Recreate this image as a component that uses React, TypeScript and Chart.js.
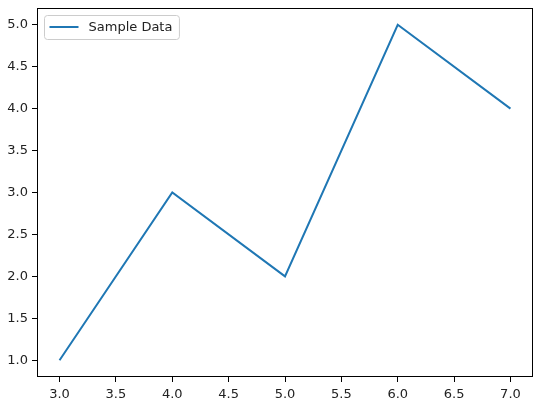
import React, { useEffect, useRef } from "react";
import { Chart, registerables } from "chart.js";

Chart.register(...registerables);

const xValues = [3, 4, 5, 6, 7];
const yValues = [1, 3, 2, 5, 4];
const xTicks = [3.0, 3.5, 4.0, 4.5, 5.0, 5.5, 6.0, 6.5, 7.0];
const yTicks = [1.0, 1.5, 2.0, 2.5, 3.0, 3.5, 4.0, 4.5, 5.0];
const seriesLabel = "Sample Data";

const FONT = "'DejaVu Sans', sans-serif";

const framePlugin = {
  id: "frame",
  afterDatasetsDraw(chart: any) {
    const { ctx, chartArea } = chart;
    ctx.save();
    ctx.strokeStyle = "#000";
    ctx.lineWidth = 1;
    ctx.strokeRect(
      Math.round(chartArea.left) + 0.5,
      Math.round(chartArea.top) + 0.5,
      Math.round(chartArea.right - chartArea.left) - 1,
      Math.round(chartArea.bottom - chartArea.top) - 1
    );
    // legend
    const lx = chartArea.left + 7;
    const ly = chartArea.top + 7;
    ctx.font = `13px ${FONT}`;
    const label = chart.data.datasets[0].label;
    const tw = ctx.measureText(label).width;
    const w = 45 + tw + 6;
    const h = 24;
    ctx.fillStyle = "rgba(255,255,255,0.8)";
    ctx.strokeStyle = "#cccccc";
    ctx.lineWidth = 1;
    ctx.beginPath();
    const r = 3;
    const x0 = Math.round(lx) + 0.5;
    const y0 = Math.round(ly) + 0.5;
    ctx.moveTo(x0 + r, y0);
    ctx.arcTo(x0 + w, y0, x0 + w, y0 + h, r);
    ctx.arcTo(x0 + w, y0 + h, x0, y0 + h, r);
    ctx.arcTo(x0, y0 + h, x0, y0, r);
    ctx.arcTo(x0, y0, x0 + w, y0, r);
    ctx.closePath();
    ctx.fill();
    ctx.stroke();
    ctx.strokeStyle = "#1f77b4";
    ctx.lineWidth = 2;
    ctx.beginPath();
    ctx.moveTo(x0 + 5, y0 + 11.5);
    ctx.lineTo(x0 + 34, y0 + 11.5);
    ctx.stroke();
    ctx.fillStyle = "#222";
    ctx.textBaseline = "middle";
    ctx.textAlign = "left";
    ctx.fillText(label, x0 + 44, y0 + 12);
    ctx.restore();
  },
};

export default function App() {
  const ref = useRef<HTMLCanvasElement | null>(null);
  useEffect(() => {
    document.body.style.margin = "0";
    const chart = new Chart(ref.current!, {
      type: "line",
      data: {
        datasets: [
          {
            label: seriesLabel,
            data: xValues.map((x, i) => ({ x, y: yValues[i] })),
            borderColor: "#1f77b4",
            backgroundColor: "#1f77b4",
            borderWidth: 2,
            pointRadius: 0,
            tension: 0,
            fill: false,
          },
        ],
      },
      options: {
        animation: false,
        responsive: false,
        layout: { padding: { top: 8, right: 8, left: 0, bottom: 0 } },
        plugins: { legend: { display: false }, tooltip: { enabled: false } },
        scales: {
          x: {
            type: "linear",
            min: 2.8,
            max: 7.2,
            afterBuildTicks: (s: any) => {
              s.ticks = xTicks.map((v) => ({ value: v }));
            },
            afterFit: (s: any) => {
              s.height = 32;
              s.paddingLeft = 0;
              s.paddingRight = 0;
            },
            ticks: {
              color: "#222",
              font: { family: FONT, size: 13 },
              padding: 5,
              maxRotation: 0,
              autoSkip: false,
              callback: (v: any) => Number(v).toFixed(1),
            },
            grid: {
              drawOnChartArea: false,
              drawTicks: true,
              tickLength: 5,
              color: "#000",
            },
            border: { display: false },
          },
          y: {
            type: "linear",
            min: 0.8,
            max: 5.2,
            afterBuildTicks: (s: any) => {
              s.ticks = yTicks.map((v) => ({ value: v }));
            },
            afterFit: (s: any) => {
              s.width = 37;
              s.paddingTop = 0;
              s.paddingBottom = 0;
            },
            ticks: {
              color: "#222",
              font: { family: FONT, size: 13 },
              padding: 4,
              autoSkip: false,
              callback: (v: any) => Number(v).toFixed(1),
            },
            grid: {
              drawOnChartArea: false,
              drawTicks: true,
              tickLength: 5,
              color: "#000",
            },
            border: { display: false },
          },
        },
      },
      plugins: [framePlugin],
    });
    return () => chart.destroy();
  }, []);
  return (
    <div style={{ position: "absolute", left: 0, top: 0, width: 541, height: 409, background: "#fff" }}>
      <canvas ref={ref} width={541} height={409} />
    </div>
  );
}
